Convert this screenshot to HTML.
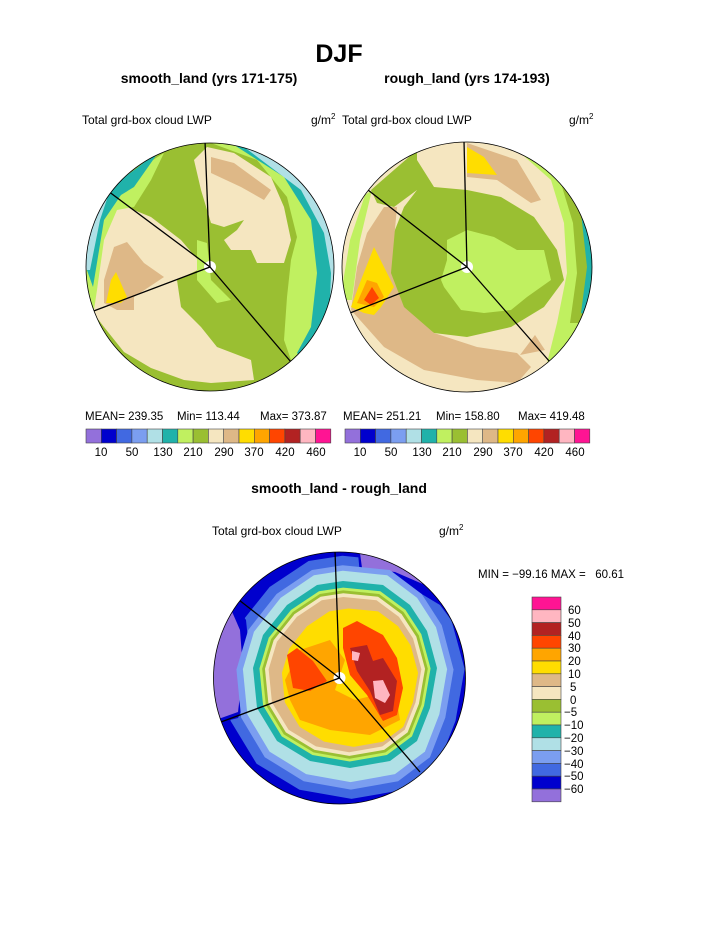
<!DOCTYPE html>
<html><head><meta charset="utf-8"><style>
html,body{margin:0;padding:0;background:#fff;width:723px;height:935px;overflow:hidden}
svg{display:block}
text{font-family:"Liberation Sans",Arial,sans-serif;fill:#000;white-space:pre}
.b{font-weight:bold}
</style></head><body>
<svg width="723" height="935" viewBox="0 0 723 935" xmlns="http://www.w3.org/2000/svg">
<defs>
<clipPath id="c1"><circle cx="210" cy="267" r="124"/></clipPath>
<clipPath id="c2"><circle cx="467" cy="267" r="125"/></clipPath>
<clipPath id="c3"><circle cx="339.5" cy="678" r="126"/></clipPath>
<path id="bs" d="M287,605 L317,585 L343,581 L383,585 L410,605 L427,631 L437,668 L430,708 L417,741 L390,761 L350,768 L310,761 L277,741 L257,708 L253,668 L263,635Z"/>
</defs>

<text x="339" y="62" font-size="25" class="b" text-anchor="middle">DJF</text>
<text x="209" y="83" font-size="14" class="b" text-anchor="middle">smooth_land (yrs 171-175)</text>
<text x="467" y="83" font-size="14" class="b" text-anchor="middle">rough_land (yrs 174-193)</text>
<text x="82" y="124" font-size="12">Total grd-box cloud LWP</text>
<text x="311" y="124" font-size="12">g/m<tspan font-size="8" dy="-5">2</tspan></text>
<text x="342" y="124" font-size="12">Total grd-box cloud LWP</text>
<text x="569" y="124" font-size="12">g/m<tspan font-size="8" dy="-5">2</tspan></text>

<!-- Left map -->
<g clip-path="url(#c1)">
<rect x="80" y="140" width="260" height="260" fill="#9abf32"/>
<path d="M211,143 L257,160 L287,197 L297,237 L291,260 L287,297 L284,340 L291,360 L340,400 L340,140Z" fill="#c0f060"/>
<path d="M231,143 L284,177 L311,220 L317,273 L311,327 L297,353 L340,400 L340,140Z" fill="#20b2aa"/>
<path d="M244,147 L301,190 L324,233 L331,273 L330,300 L340,300 L340,140Z" fill="#b0e0e6"/>
<path d="M91,310 L94,240 L117,203 L151,217 L181,240 L204,267 L177,280 L181,307 L201,327 L217,347 L251,360 L254,380 L211,383 L184,380 L151,368 L124,352 L104,327Z" fill="#f5e6c0"/>
<path d="M114,183 L137,170 L164,153 L151,180 L134,207 L117,210 L104,240 L97,290 L94,310 L80,310 L80,180Z" fill="#c0f060"/>
<path d="M111,187 L137,168 L160,150 L134,187 L121,195 L104,220 L93,287 L88,273 L80,250 L80,190Z" fill="#20b2aa"/>
<path d="M80,270 L87,230 L100,195 L110,190 L100,220 L90,270Z" fill="#b0e0e6"/>
<path d="M194,160 L207,147 L234,153 L271,177 L284,207 L291,240 L284,263 L257,263 L251,250 L231,250 L224,240 L237,230 L244,220 L224,227 L211,223 L201,190Z" fill="#f5e6c0"/>
<path d="M211,157 L234,163 L271,190 L264,200 L241,187 L211,173Z" fill="#deb887"/>
<path d="M104,280 L114,247 L127,242 L144,263 L164,277 L134,297 L134,310 L117,310 L104,303Z" fill="#deb887"/>
<path d="M106,303 L111,280 L116,272 L127,297 L121,303Z" fill="#ffdd00"/>
<path d="M197,240 L207,243 L211,280 L231,300 L217,303 L197,280Z" fill="#c0f060"/>
<circle cx="210" cy="267" r="6" fill="#fff"/>
<g stroke="#000" stroke-width="1.3"><line x1="210" y1="267" x2="205" y2="141"/><line x1="210" y1="267" x2="108" y2="191"/><line x1="210" y1="267" x2="91" y2="312"/><line x1="210" y1="267" x2="291" y2="362"/></g>
</g>
<circle cx="210" cy="267" r="124" fill="none" stroke="#000" stroke-width="0.8"/>

<!-- Right map -->
<g clip-path="url(#c2)">
<rect x="340" y="140" width="260" height="260" fill="#f5e6c0"/>
<path d="M517,150 L551,180 L564,223 L567,273 L557,323 L547,363 L600,400 L600,140Z" fill="#c0f060"/>
<path d="M530,150 L560,180 L573,223 L577,273 L570,323 L600,323 L600,140Z" fill="#9abf32"/>
<path d="M557,170 L581,213 L587,267 L581,313 L600,320 L600,160Z" fill="#20b2aa"/>
<path d="M575,190 L590,230 L600,230 L600,190Z" fill="#b0e0e6"/>
<path d="M340,300 L350,240 L365,195 L372,190 L360,240 L352,300Z" fill="#c0f060"/>
<path d="M371,190 L417,150 L417,190 L394,207 L377,203Z" fill="#9abf32"/>
<path d="M417,160 L434,187 L467,190 L501,197 L534,217 L557,250 L564,280 L544,307 L511,327 L467,337 L434,333 L404,313 L384,280 L391,240 L404,207 L417,190 L401,167Z" fill="#9abf32"/>
<path d="M447,240 L467,230 L494,237 L517,250 L544,250 L551,280 L527,297 L511,310 L484,313 L461,310 L444,287 L441,280 L447,260Z" fill="#c0f060"/>
<path d="M351,310 L357,267 L367,233 L384,207 L397,207 L394,240 L391,273 L404,307 L434,333 L477,347 L517,353 L531,367 L517,383 L477,380 L424,370 L384,347Z" fill="#deb887"/>
<path d="M351,307 L361,280 L374,247 L387,273 L394,287 L381,307 L374,315 L364,313Z" fill="#ffdd00"/>
<path d="M357,303 L367,280 L377,283 L384,297 L374,307Z" fill="#ffa500"/>
<path d="M364,300 L372,287 L379,298 L371,305Z" fill="#ff4500"/>
<path d="M467,143 L517,160 L541,200 L531,203 L497,180 L467,177Z" fill="#deb887"/>
<path d="M467,147 L484,157 L497,175 L467,173Z" fill="#ffdd00"/>
<path d="M520,355 L535,335 L545,350Z" fill="#deb887"/>
<circle cx="467" cy="267" r="6" fill="#fff"/>
<g stroke="#000" stroke-width="1.3"><line x1="467" y1="267" x2="464" y2="141"/><line x1="467" y1="267" x2="368" y2="190"/><line x1="467" y1="267" x2="350" y2="313"/><line x1="467" y1="267" x2="550" y2="362"/></g>
</g>
<circle cx="467" cy="267" r="125" fill="none" stroke="#000" stroke-width="0.8"/>

<!-- stats + colorbars -->
<g font-size="11.5">
<text x="85" y="420">MEAN= 239.35</text><text x="177" y="420">Min= 113.44</text><text x="260" y="420">Max= 373.87</text>
<text x="343" y="420">MEAN= 251.21</text><text x="436" y="420">Min= 158.80</text><text x="518" y="420">Max= 419.48</text>
</g>
<g id="hb" stroke="#444" stroke-width="0.6">
<rect x="86" y="429" width="15.3" height="14" fill="#9370db"/>
<rect x="101.3" y="429" width="15.3" height="14" fill="#0000cd"/>
<rect x="116.6" y="429" width="15.3" height="14" fill="#4169e1"/>
<rect x="131.9" y="429" width="15.3" height="14" fill="#7b9ef0"/>
<rect x="147.2" y="429" width="15.3" height="14" fill="#b0e0e6"/>
<rect x="162.5" y="429" width="15.3" height="14" fill="#20b2aa"/>
<rect x="177.8" y="429" width="15.3" height="14" fill="#c0f060"/>
<rect x="193.1" y="429" width="15.3" height="14" fill="#9abf32"/>
<rect x="208.4" y="429" width="15.3" height="14" fill="#f5e6c0"/>
<rect x="223.7" y="429" width="15.3" height="14" fill="#deb887"/>
<rect x="239" y="429" width="15.3" height="14" fill="#ffdd00"/>
<rect x="254.3" y="429" width="15.3" height="14" fill="#ffa500"/>
<rect x="269.6" y="429" width="15.3" height="14" fill="#ff4500"/>
<rect x="284.9" y="429" width="15.3" height="14" fill="#b22222"/>
<rect x="300.2" y="429" width="15.3" height="14" fill="#ffb6c1"/>
<rect x="315.5" y="429" width="15.3" height="14" fill="#ff1493"/>
</g>
<use href="#hb" transform="translate(259 0)"/>
<g font-size="11.5" text-anchor="middle">
<text x="101" y="456">10</text><text x="132" y="456">50</text><text x="163" y="456">130</text><text x="193" y="456">210</text><text x="224" y="456">290</text><text x="254" y="456">370</text><text x="285" y="456">420</text><text x="316" y="456">460</text>
<text x="360" y="456">10</text><text x="391" y="456">50</text><text x="422" y="456">130</text><text x="452" y="456">210</text><text x="483" y="456">290</text><text x="513" y="456">370</text><text x="544" y="456">420</text><text x="575" y="456">460</text>
</g>

<text x="339" y="493" font-size="14" class="b" text-anchor="middle">smooth_land - rough_land</text>
<text x="212" y="535" font-size="12">Total grd-box cloud LWP</text>
<text x="439" y="535" font-size="12">g/m<tspan font-size="8" dy="-5">2</tspan></text>

<!-- Bottom map -->
<g clip-path="url(#c3)">
<rect x="210" y="548" width="260" height="260" fill="#9370db"/>
<use href="#bs" fill="#0000cd" transform="translate(345 675) scale(1.5 1.45) translate(-345 -675)"/>
<use href="#bs" fill="#4169e1" transform="translate(345 678) scale(1.3 1.3) translate(-345 -675)"/>
<path d="M358,553 L470,553 L470,650 L455,625 L440,605 L415,590 L390,578 L360,575Z" fill="#0000cd"/>
<path d="M360,553 L470,553 L470,620 L450,605 L425,585 L395,572 L362,568Z" fill="#9370db"/>
<path d="M210,612 L232,600 L246,620 L250,660 L246,700 L238,718 L210,725Z" fill="#0000cd"/>
<path d="M210,618 L230,607 L240,630 L243,670 L238,712 L210,722Z" fill="#9370db"/>
<use href="#bs" fill="#7b9ef0" transform="translate(345 678) scale(1.18 1.2) translate(-345 -675)"/>
<use href="#bs" fill="#b0e0e6" transform="translate(345 677) scale(1.11 1.13) translate(-345 -675)"/>
<use href="#bs" fill="#20b2aa" transform="translate(345 675) scale(1 1) translate(-345 -675)"/>
<use href="#bs" fill="#c0f060" transform="translate(345 675) scale(0.93 0.93) translate(-345 -675)"/>
<use href="#bs" fill="#9abf32" transform="translate(345 675) scale(0.9 0.9) translate(-345 -675)"/>
<use href="#bs" fill="#f5e6c0" transform="translate(345 675) scale(0.87 0.87) translate(-345 -675)"/>
<use href="#bs" fill="#deb887" transform="translate(345 675) scale(0.83 0.83) translate(-345 -675)"/>
<use href="#bs" fill="#ffdd00" transform="translate(350 678) scale(0.74 0.74) translate(-345 -675)"/>
<path d="M300,650 L330,640 L345,660 L335,690 L355,700 L395,690 L400,720 L370,735 L330,730 L300,720 L290,700 L285,680Z" fill="#ffa500"/>
<path d="M343,628 L357,621 L383,635 L397,658 L403,688 L397,715 L383,721 L367,695 L350,675 L343,648Z" fill="#ff4500"/>
<path d="M350,648 L367,645 L373,661 L383,658 L397,681 L393,711 L380,715 L370,691 L357,671Z" fill="#b22222"/>
<path d="M373,681 L383,680 L390,695 L385,703 L375,698Z" fill="#ffb6c1"/>
<path d="M352,651 L360,653 L358,661 L352,660Z" fill="#ffb6c1"/>
<path d="M287,655 L297,648 L313,661 L327,681 L310,691 L293,688Z" fill="#ff4500"/>
<circle cx="339.5" cy="678" r="6" fill="#fff"/>
<g stroke="#000" stroke-width="1.3"><line x1="339.5" y1="678" x2="335" y2="551"/><line x1="339.5" y1="678" x2="239" y2="600"/><line x1="339.5" y1="678" x2="221" y2="722"/><line x1="339.5" y1="678" x2="420" y2="772"/></g>
</g>
<circle cx="339.5" cy="678" r="126" fill="none" stroke="#000" stroke-width="0.8"/>

<text x="478" y="578" font-size="11.5">MIN = −99.16 MAX =   60.61</text>
<g stroke="#444" stroke-width="0.6">
<rect x="532" y="597" width="29" height="12.8" fill="#ff1493"/>
<rect x="532" y="609.8" width="29" height="12.8" fill="#ffb6c1"/>
<rect x="532" y="622.6" width="29" height="12.8" fill="#b22222"/>
<rect x="532" y="635.4" width="29" height="12.8" fill="#ff4500"/>
<rect x="532" y="648.2" width="29" height="12.8" fill="#ffa500"/>
<rect x="532" y="661" width="29" height="12.8" fill="#ffdd00"/>
<rect x="532" y="673.8" width="29" height="12.8" fill="#deb887"/>
<rect x="532" y="686.6" width="29" height="12.8" fill="#f5e6c0"/>
<rect x="532" y="699.4" width="29" height="12.8" fill="#9abf32"/>
<rect x="532" y="712.2" width="29" height="12.8" fill="#c0f060"/>
<rect x="532" y="725" width="29" height="12.8" fill="#20b2aa"/>
<rect x="532" y="737.8" width="29" height="12.8" fill="#b0e0e6"/>
<rect x="532" y="750.6" width="29" height="12.8" fill="#7b9ef0"/>
<rect x="532" y="763.4" width="29" height="12.8" fill="#4169e1"/>
<rect x="532" y="776.2" width="29" height="12.8" fill="#0000cd"/>
<rect x="532" y="789" width="29" height="12.8" fill="#9370db"/>
</g>
<g font-size="11.5">
<text x="568" y="614">60</text><text x="568" y="627">50</text><text x="568" y="640">40</text><text x="568" y="652">30</text><text x="568" y="665">20</text><text x="568" y="678">10</text><text x="570" y="691">5</text><text x="570" y="704">0</text>
<text x="564" y="716">−5</text><text x="564" y="729">−10</text><text x="564" y="742">−20</text><text x="564" y="755">−30</text><text x="564" y="768">−40</text><text x="564" y="780">−50</text><text x="564" y="793">−60</text>
</g>
</svg>
</body></html>
